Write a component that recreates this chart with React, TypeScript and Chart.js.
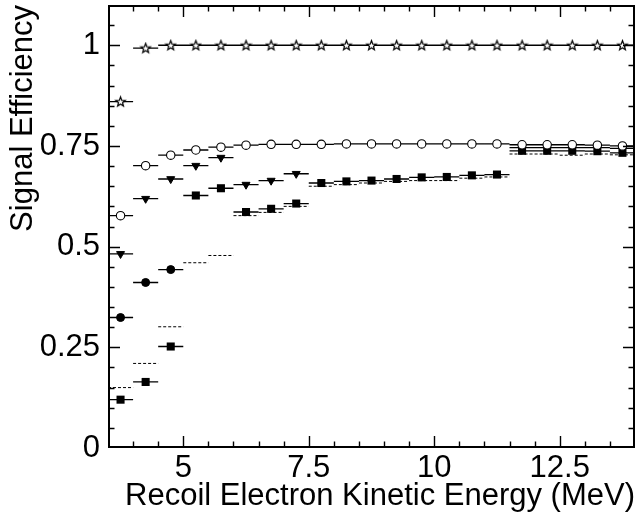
import React, { useEffect, useRef } from "react";
import { Chart, registerables } from "chart.js";

Chart.register(...registerables);

// ---- axis ranges and labels ----
const X_MIN = 3.5;
const X_MAX = 14;
const Y_MIN = 0;
const Y_MAX = 1.1;
const BIN_WIDTH = 0.5;

const xTickValues = [5, 7.5, 10, 12.5];
const xTickLabels = ["5", "7.5", "10", "12.5"];
const yTickValues = [0, 0.25, 0.5, 0.75, 1];
const yTickLabels = ["0", "0.25", "0.5", "0.75", "1"];

const X_TITLE = "Recoil Electron Kinetic Energy (MeV)";
const Y_TITLE = "Signal Efficiency";

// ---- data (bin centres in MeV, efficiencies) ----
const allBins = [
  3.75, 4.25, 4.75, 5.25, 5.75, 6.25, 6.75, 7.25, 7.75, 8.25, 8.75,
  9.25, 9.75, 10.25, 10.75, 11.25, 11.75, 12.25, 12.75, 13.25, 13.75,
];

const starValues = [
  0.86, 0.993, 1.0, 1.0, 1.0, 1.0, 1.0, 1.0, 1.0, 1.0, 1.0,
  1.0, 1.0, 1.0, 1.0, 1.0, 1.0, 1.0, 1.0, 1.0, 1.0,
];

const openCircleValues = [
  0.577, 0.701, 0.727, 0.74, 0.747, 0.752, 0.754, 0.754, 0.754, 0.755, 0.755,
  0.755, 0.755, 0.755, 0.755, 0.755, 0.753, 0.753, 0.753, 0.752, 0.75,
];

const triangleBins = [3.75, 4.25, 4.75, 5.25, 5.75, 6.25, 6.75, 7.25];
const triangleValues = [0.482, 0.619, 0.668, 0.701, 0.721, 0.654, 0.664, 0.681];

const filledCircleBins = [3.75, 4.25, 4.75];
const filledCircleValues = [0.324, 0.411, 0.443];

const squareValues = [
  0.12, 0.164, 0.252, 0.627, 0.645, 0.586, 0.594, 0.607, 0.658, 0.662, 0.664,
  0.668, 0.672, 0.673, 0.677, 0.679, 0.738, 0.738, 0.738, 0.737, 0.733,
];

const dottedValues = [
  0.15, 0.21, 0.301, 0.46, 0.478, 0.577, 0.585, 0.6, 0.65, 0.654, 0.658,
  0.662, 0.664, 0.664, 0.67, 0.673, 0.73, 0.73, 0.727, 0.73, 0.728,
];

const plainLineBins = [11.75, 12.25, 12.75, 13.25, 13.75];
const plainLineValues = [0.746, 0.746, 0.746, 0.746, 0.744];

const FONT = "'Liberation Sans', Arial, Helvetica, sans-serif";

function barPoints(bins: number[], values: number[]) {
  const pts: { x: number; y: number | null }[] = [];
  bins.forEach((c, i) => {
    pts.push({ x: c - BIN_WIDTH / 2, y: values[i] });
    pts.push({ x: c + BIN_WIDTH / 2, y: values[i] });
    pts.push({ x: c + BIN_WIDTH / 2, y: null });
  });
  return pts;
}

function markerPoints(bins: number[], values: number[]) {
  return bins.map((c, i) => ({ x: c, y: values[i] }));
}

function makeStar(): HTMLCanvasElement {
  const size = 13;
  const cv = document.createElement("canvas");
  cv.width = size;
  cv.height = size;
  const ctx = cv.getContext("2d")!;
  const cx = size / 2;
  const cy = size / 2 + 0.3;
  const ro = 5.0;
  const ri = 2.1;
  ctx.beginPath();
  for (let k = 0; k < 10; k++) {
    const r = k % 2 === 0 ? ro : ri;
    const a = -Math.PI / 2 + (k * Math.PI) / 5;
    const px = cx + r * Math.cos(a);
    const py = cy + r * Math.sin(a);
    if (k === 0) ctx.moveTo(px, py);
    else ctx.lineTo(px, py);
  }
  ctx.closePath();
  ctx.fillStyle = "#fff";
  ctx.fill();
  ctx.lineWidth = 1.2;
  ctx.strokeStyle = "#000";
  ctx.stroke();
  return cv;
}

// frame + inward ticks, drawn on an overlay canvas from the chart's own scales
function drawFrame(chart: any, overlay: HTMLCanvasElement) {
  const ctx = overlay.getContext("2d")!;
  ctx.clearRect(0, 0, overlay.width, overlay.height);
  const xs = chart.scales.x;
  const ys = chart.scales.y;
  const left = Math.round(xs.getPixelForValue(X_MIN)) + 1;
  const right = Math.round(xs.getPixelForValue(X_MAX)) - 1;
  const top = Math.round(ys.getPixelForValue(Y_MAX)) + 1;
  const bottom = Math.round(ys.getPixelForValue(Y_MIN)) - 1;
  ctx.strokeStyle = "#000";
  ctx.lineWidth = 2;
  ctx.strokeRect(left, top, right - left, bottom - top);
  ctx.lineWidth = 1.4;
  ctx.beginPath();
  for (let k = 1; k < 21; k++) {
    const v = X_MIN + k * 0.5;
    const px = Math.round(xs.getPixelForValue(v)) + 0.5;
    const major = xTickValues.some((t) => Math.abs(t - v) < 1e-6);
    const len = major ? 11 : 5.5;
    ctx.moveTo(px, bottom);
    ctx.lineTo(px, bottom - len);
    ctx.moveTo(px, top);
    ctx.lineTo(px, top + len);
  }
  for (let k = 1; k < 22; k++) {
    const v = k * 0.05;
    const py = Math.round(ys.getPixelForValue(v)) + 0.5;
    const major = yTickValues.some((t) => Math.abs(t - v) < 1e-6);
    const len = major ? 11 : 5.5;
    ctx.moveTo(left, py);
    ctx.lineTo(left + len, py);
    ctx.moveTo(right, py);
    ctx.lineTo(right - len, py);
  }
  ctx.stroke();
}

export default function App() {
  const ref = useRef<HTMLCanvasElement | null>(null);
  const overlayRef = useRef<HTMLCanvasElement | null>(null);

  useEffect(() => {
    if (!ref.current) return;
    const star = makeStar();

    const barStyle = (dashed: boolean, order: number) => ({
      showLine: true,
      borderColor: "#000",
      borderWidth: dashed ? 1 : 1.3,
      borderDash: dashed ? [3, 2] : [],
      pointRadius: 0,
      pointHoverRadius: 0,
      spanGaps: false,
      tension: 0,
      fill: false,
      order,
    });

    const markerStyle = (extra: any, order: number) => ({
      showLine: false,
      borderColor: "#000",
      borderWidth: 1,
      order,
      ...extra,
    });

    const chart = new Chart(ref.current, {
      type: "line",
      data: {
        datasets: [
          { data: barPoints(allBins, starValues), ...barStyle(false, 20) },
          { data: barPoints(allBins, openCircleValues), ...barStyle(false, 20) },
          { data: barPoints(plainLineBins, plainLineValues), ...barStyle(false, 20) },
          { data: barPoints(triangleBins, triangleValues), ...barStyle(false, 20) },
          { data: barPoints(filledCircleBins, filledCircleValues), ...barStyle(false, 20) },
          { data: barPoints(allBins, squareValues), ...barStyle(false, 20) },
          { data: barPoints(allBins, dottedValues), ...barStyle(true, 21) },
          {
            data: markerPoints(allBins, starValues),
            ...markerStyle({ pointStyle: star, pointRadius: 6, pointHoverRadius: 6 }, 1),
          },
          {
            data: markerPoints(allBins, openCircleValues),
            ...markerStyle(
              { pointStyle: "circle", pointRadius: 4.2, pointHoverRadius: 4.2, backgroundColor: "#fff", pointBorderWidth: 1.1 },
              2
            ),
          },
          {
            data: markerPoints(triangleBins, triangleValues),
            ...markerStyle(
              { pointStyle: "triangle", rotation: 180, pointRadius: 4.6, pointHoverRadius: 4.6, backgroundColor: "#000" },
              3
            ),
          },
          {
            data: markerPoints(filledCircleBins, filledCircleValues),
            ...markerStyle(
              { pointStyle: "circle", pointRadius: 4, pointHoverRadius: 4, backgroundColor: "#000" },
              3
            ),
          },
          {
            data: markerPoints(allBins, squareValues),
            ...markerStyle(
              { pointStyle: "rect", pointRadius: 5.7, pointHoverRadius: 5.7, backgroundColor: "#000", pointBorderWidth: 0 },
              4
            ),
          },
        ] as any,
      },
      options: {
        responsive: false,
        animation: false,
        devicePixelRatio: 1,
        layout: { autoPadding: false, padding: { top: 5, right: 1, left: 0, bottom: 0 } },
        plugins: {
          legend: { display: false },
          tooltip: { enabled: false },
        },
        events: [],
        scales: {
          x: {
            type: "linear",
            min: X_MIN,
            max: X_MAX,
            grid: { display: false, drawTicks: false },
            border: { display: false },
            afterBuildTicks: (s: any) => {
              s.ticks = xTickValues.map((v) => ({ value: v }));
            },
            afterFit: (s: any) => {
              s.height = 64;
              s.paddingLeft = 0;
              s.paddingRight = 0;
            },
            ticks: {
              autoSkip: false,
              maxRotation: 0,
              padding: 2,
              color: "#000",
              font: { family: FONT, size: 31, lineHeight: 1.2 },
              callback: (v: any) => {
                const i = xTickValues.findIndex((t) => Math.abs(t - Number(v)) < 1e-6);
                return i >= 0 ? xTickLabels[i] : "";
              },
            },
            title: {
              display: true,
              text: X_TITLE,
              align: "end",
              color: "#000",
              padding: 0,
              font: { family: FONT, size: 31, lineHeight: 1 },
            },
          },
          y: {
            type: "linear",
            min: Y_MIN,
            max: Y_MAX,
            grid: { display: false, drawTicks: false },
            border: { display: false },
            afterBuildTicks: (s: any) => {
              s.ticks = yTickValues.map((v) => ({ value: v }));
            },
            afterFit: (s: any) => {
              s.width = 108;
              s.paddingTop = 0;
              s.paddingBottom = 0;
            },
            ticks: {
              autoSkip: false,
              padding: 8,
              color: "#000",
              font: { family: FONT, size: 31, lineHeight: 1.2 },
              callback: (v: any) => {
                const i = yTickValues.findIndex((t) => Math.abs(t - Number(v)) < 1e-6);
                return i >= 0 ? yTickLabels[i] : "";
              },
            },
            title: {
              display: true,
              text: Y_TITLE,
              align: "end",
              color: "#000",
              padding: { top: 5, bottom: 0 },
              font: { family: FONT, size: 31, lineHeight: 1.2 },
            },
          },
        },
      },
    });

    const overlay = overlayRef.current;
    if (overlay) drawFrame(chart, overlay);
    const raf = requestAnimationFrame(() => {
      if (overlay) drawFrame(chart, overlay);
    });

    return () => {
      cancelAnimationFrame(raf);
      chart.destroy();
    };
  }, []);

  return (
    <div style={{ position: "absolute", left: 0, top: 0, width: 636, height: 512, background: "#fff" }}>
      <canvas ref={ref} width={636} height={512} style={{ display: "block", position: "absolute", left: 0, top: 0 }} />
      <canvas
        ref={overlayRef}
        width={636}
        height={512}
        style={{ display: "block", position: "absolute", left: 0, top: 0, pointerEvents: "none" }}
      />
    </div>
  );
}
